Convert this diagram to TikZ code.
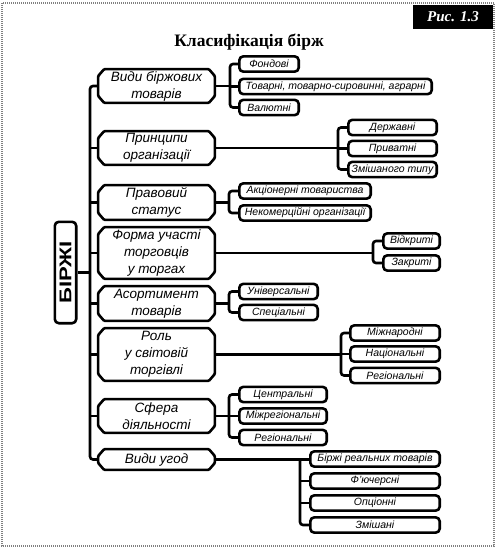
\documentclass[tikz,border=0pt]{standalone}
\usepackage{fontspec}
\setmainfont{Liberation Serif}
\setsansfont{Liberation Sans}
\usetikzlibrary{calc}
\newcommand\catbox[6]{%
 \node[catnode, minimum width=#4pt, minimum height=#5pt] (#1) at (#2,#3) {#6};
 \draw[boxline, rounded corners=1pt] ($(#1.north west)+(6,0)$) -- ($(#1.north east)+(-6,0)$) -- ($(#1.north east)+(0,7)$) -- ($(#1.south east)+(0,-7)$) -- ($(#1.south east)+(-6,0)$) -- ($(#1.south west)+(6,0)$) -- ($(#1.south west)+(0,-7)$) -- ($(#1.north west)+(0,7)$) -- cycle;
}
\begin{document}
\begin{tikzpicture}[x=1pt,y=-1pt,
 boxline/.style={line width=2.6pt},
 conn/.style={draw, line width=2.6pt, rounded corners=3pt},
 catnode/.style={inner sep=0pt, align=center, font=\sffamily\itshape\fontsize{13.5}{17}\selectfont},
 leaf/.style={draw, line width=2.6pt, rounded corners=4pt, inner sep=0pt, minimum height=15.3pt, align=center, font=\sffamily\itshape\fontsize{10.5}{12}\selectfont},
]
\useasboundingbox (0,0) rectangle (497,550);
\draw[gray, line width=2pt, dash pattern=on 1pt off 1pt] (2,3) rectangle (494,546);
\node[fill=black, text=white, minimum width=80pt, minimum height=24pt, inner sep=0pt, font=\bfseries\itshape\fontsize{15}{18}\selectfont] (fig) at (453,16.5) {Рис. 1.3};
\node[font=\bfseries\fontsize{17.5}{20}\selectfont] (title) at (249,42) {Класифікація бірж};
\node[draw, line width=2.6pt, rounded corners=4pt, rotate=90, minimum width=101.4pt, minimum height=21.4pt, inner sep=0pt, font=\sffamily\bfseries\fontsize{17}{20}\selectfont] (birzhi) at (65.5,272.5) {\scalebox{1.3}[1]{БІРЖІ}};
\coordinate (bus) at (90,0);
% categories
\catbox{c1}{156.5}{86}{116.4}{33.4}{Види біржових\\товарів}
\catbox{c2}{156.5}{148}{116.4}{33.4}{Принципи\\організації}
\catbox{c3}{156.5}{202.5}{116.4}{34.4}{Правовий\\статус}
\catbox{c4}{156.5}{253}{116.4}{51.4}{Форма участі\\торговців\\у торгах}
\catbox{c5}{156.5}{303.5}{116.4}{34.4}{Асортимент\\товарів}
\catbox{c6}{156.5}{354.5}{116.4}{52.4}{Роль\\у світовій\\торгівлі}
\catbox{c7}{156.5}{416}{116.4}{33.4}{Сфера\\діяльності}
\catbox{c8}{156.5}{459.5}{116.4}{20.4}{Види угод}
% bus
\draw[conn] (c1.west) -- (c1.west -| bus) -- (c8.west -| bus) -- (c8.west);
\foreach \n in {c2,c3,c4,c5,c6,c7} \draw[conn] (\n.west -| bus) -- (\n.west);
\draw[conn] (birzhi.south) -- (birzhi.south -| bus);
% leaves
\node[leaf, minimum width=59.4pt] (l1a) at (269,64) {Фондові};
\node[leaf, minimum width=192.4pt] (l1b) at (335.5,86.5) {Товарні, товарно-сировинні, аграрні};
\node[leaf, minimum width=59.4pt] (l1c) at (269,107.5) {Валютні};
\node[leaf, minimum width=88.4pt] (l2a) at (392.5,127.5) {Державні};
\node[leaf, minimum width=88.4pt] (l2b) at (392.5,148.5) {Приватні};
\node[leaf, minimum width=88.4pt] (l2c) at (392.5,169.5) {Змішаного типу};
\node[leaf, minimum width=131.4pt] (l3a) at (305,191) {Акціонерні товариства};
\node[leaf, minimum width=131.4pt] (l3b) at (305,213) {Некомерційні організації};
\node[leaf, minimum width=56.4pt] (l4a) at (411.5,241) {Відкриті};
\node[leaf, minimum width=56.4pt] (l4b) at (411.5,263) {Закриті};
\node[leaf, minimum width=78.4pt] (l5a) at (278.5,291.5) {Універсальні};
\node[leaf, minimum width=78.4pt] (l5b) at (278.5,312.5) {Спеціальні};
\node[leaf, minimum width=89.4pt] (l6a) at (395,333) {Міжнародні};
\node[leaf, minimum width=89.4pt] (l6b) at (395,354) {Національні};
\node[leaf, minimum width=89.4pt] (l6c) at (395,375.5) {Регіональні};
\node[leaf, minimum width=87.4pt] (l7a) at (283,394.5) {Центральні};
\node[leaf, minimum width=87.4pt] (l7b) at (283,416) {Міжрегіональні};
\node[leaf, minimum width=87.4pt] (l7c) at (283,437.5) {Регіональні};
\node[leaf, minimum width=129.4pt] (l8a) at (375,459) {Біржі реальних товарів};
\node[leaf, minimum width=129.4pt] (l8b) at (375,481) {Ф'ючерсні};
\node[leaf, minimum width=129.4pt] (l8c) at (375,503) {Опціонні};
\node[leaf, minimum width=129.4pt] (l8d) at (375,525) {Змішані};
% branches
\coordinate (b1) at (230,0);
\coordinate (b2) at (338,0);
\coordinate (b3) at (229,0);
\coordinate (b4) at (373,0);
\coordinate (b5) at (229,0);
\coordinate (b6) at (341,0);
\coordinate (b7) at (229,0);
\coordinate (b8) at (300,0);
% group 1
\draw[conn] (c1.east) -- (c1.east -| b1);
\draw[conn] (l1a.west) -- (l1a.west -| b1) -- (l1c.west -| b1) -- (l1c.west);
\draw[conn] (l1b.west -| b1) -- (l1b.west);
% group 2
\draw[conn] (c2.east) -- (c2.east -| b2);
\draw[conn] (l2a.west) -- (l2a.west -| b2) -- (l2c.west -| b2) -- (l2c.west);
\draw[conn] (l2b.west -| b2) -- (l2b.west);
% group 3
\draw[conn] (c3.east) -- (c3.east -| b3);
\draw[conn] (l3a.west) -- (l3a.west -| b3) -- (l3b.west -| b3) -- (l3b.west);
% group 4
\draw[conn] (c4.east) -- (c4.east -| b4);
\draw[conn] (l4a.west) -- (l4a.west -| b4) -- (l4b.west -| b4) -- (l4b.west);
% group 5
\draw[conn] (c5.east) -- (c5.east -| b5);
\draw[conn] (l5a.west) -- (l5a.west -| b5) -- (l5b.west -| b5) -- (l5b.west);
% group 6
\draw[conn] (c6.east) -- (c6.east -| b6);
\draw[conn] (l6a.west) -- (l6a.west -| b6) -- (l6c.west -| b6) -- (l6c.west);
\draw[conn] (l6b.west -| b6) -- (l6b.west);
% group 7
\draw[conn] (c7.east) -- (c7.east -| b7);
\draw[conn] (l7a.west) -- (l7a.west -| b7) -- (l7c.west -| b7) -- (l7c.west);
\draw[conn] (l7b.west -| b7) -- (l7b.west);
% group 8
\draw[conn] (c8.east) -- (c8.east -| l8a.west);
\draw[conn] (l8a.west -| b8) -- (l8d.west -| b8) -- (l8d.west);
\draw[conn] (l8b.west -| b8) -- (l8b.west);
\draw[conn] (l8c.west -| b8) -- (l8c.west);
\end{tikzpicture}
\end{document}
